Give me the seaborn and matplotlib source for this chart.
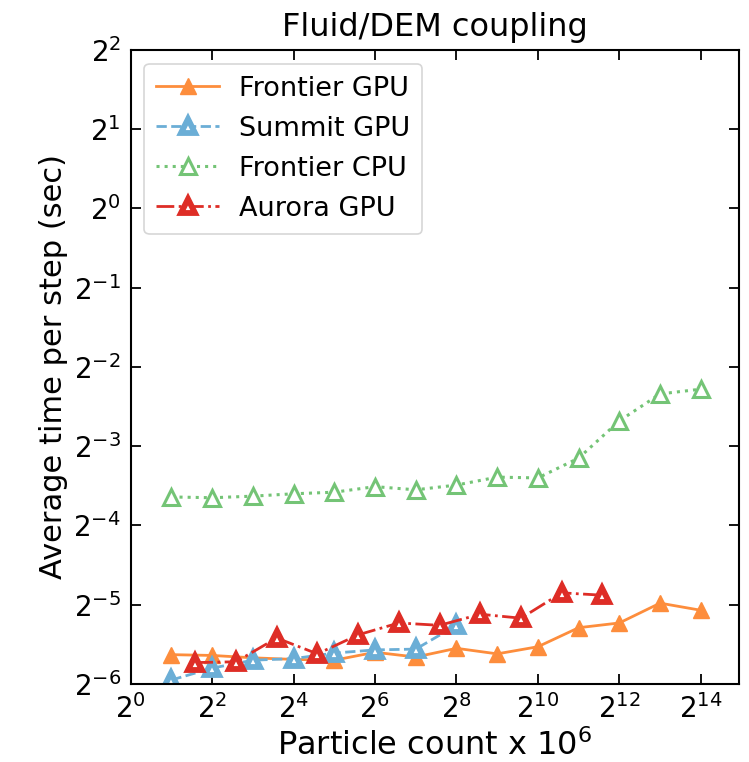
import numpy as np
import pandas as pd
import matplotlib
matplotlib.use("Agg")
import matplotlib.pyplot as plt
import seaborn as sns

# Particle count (x 10^6)
x_pow2 = [2, 4, 8, 16, 32, 64, 128, 256, 512, 1024, 2048, 4096, 8192, 16384]
x_aurora = [3, 6, 12, 24, 48, 96, 192, 384, 768, 1536, 3072]

# Average time per step (sec), read as log2 values
frontier_gpu_log2 = [-5.63, -5.64, -5.67, -5.69, -5.70, -5.60, -5.66, -5.55,
                     -5.62, -5.53, -5.29, -5.23, -4.98, -5.07]
summit_gpu_log2 = [-5.95, -5.80, -5.70, -5.68, -5.61, -5.57, -5.56, -5.26]
frontier_cpu_log2 = [-3.64, -3.65, -3.63, -3.60, -3.58, -3.51, -3.55, -3.49,
                     -3.39, -3.40, -3.15, -2.68, -2.34, -2.28]
aurora_gpu_log2 = [-5.73, -5.72, -5.42, -5.62, -5.38, -5.23, -5.26, -5.12,
                   -5.17, -4.85, -4.88]

series_names = ["Frontier GPU", "Summit GPU", "Frontier CPU", "Aurora GPU"]
x_ticks_exp = [0, 2, 4, 6, 8, 10, 12, 14]
y_ticks_exp = [-6, -5, -4, -3, -2, -1, 0, 1, 2]

frontier_gpu = [2.0 ** v for v in frontier_gpu_log2]
summit_gpu = [2.0 ** v for v in summit_gpu_log2]
frontier_cpu = [2.0 ** v for v in frontier_cpu_log2]
aurora_gpu = [2.0 ** v for v in aurora_gpu_log2]

fig = plt.figure(figsize=(7.49, 7.62), dpi=100)
ax = fig.add_axes([0.1745, 0.1024, 0.8128, 0.832])

ms = 12
sns.lineplot(x=x_pow2, y=frontier_gpu, ax=ax, color="#fd8d3c", linestyle="-",
             marker="^", markersize=ms, markerfacecolor="#fd8d3c",
             markeredgecolor="#fd8d3c", markeredgewidth=1.0, linewidth=2.0,
             label=series_names[0])
sns.lineplot(x=x_pow2[:8], y=summit_gpu, ax=ax, color="#6baed6", linestyle="--",
             marker="^", markersize=10, markerfacecolor="white",
             markeredgecolor="#6baed6", markeredgewidth=4.2, linewidth=2.0,
             label=series_names[1])
sns.lineplot(x=x_pow2, y=frontier_cpu, ax=ax, color="#74c476", linestyle=":",
             marker="^", markersize=ms, markerfacecolor="white",
             markeredgecolor="#74c476", markeredgewidth=2.2, linewidth=2.2,
             label=series_names[2])
sns.lineplot(x=x_aurora, y=aurora_gpu, ax=ax, color="#de2d26", linestyle="-.",
             marker="^", markersize=10, markerfacecolor="white",
             markeredgecolor="#de2d26", markeredgewidth=4.2, linewidth=2.0,
             label=series_names[3])

ax.set_xscale("log", base=2)
ax.set_yscale("log", base=2)
ax.set_xlim(2.0 ** 0, 2.0 ** 14.95)
ax.set_ylim(2.0 ** -6, 2.0 ** 2)
ax.set_xticks([2.0 ** e for e in x_ticks_exp])
ax.set_xticklabels([r"$2^{%d}$" % e for e in x_ticks_exp])
ax.set_yticks([2.0 ** e for e in y_ticks_exp])
ax.set_yticklabels([r"$2^{%d}$" % e for e in y_ticks_exp])
ax.minorticks_off()
ax.tick_params(axis="both", which="major", direction="in", length=7, width=1.3,
               labelsize=20, top=True, right=True, pad=7)
for sp in ax.spines.values():
    sp.set_linewidth(1.5)
    sp.set_color("black")

ax.set_xlabel(r"Particle count x $10^6$", fontsize=23)
ax.set_ylabel("Average time per step (sec)", fontsize=22)
ax.set_title("Fluid/DEM coupling", fontsize=23, pad=10)

leg = ax.legend(loc="upper left", fontsize=19.5, frameon=True, handlelength=2.3,
                handletextpad=0.75, borderpad=0.45, labelspacing=0.52,
                borderaxespad=0.5)
leg.get_frame().set_edgecolor("#cccccc")
leg.get_frame().set_linewidth(1.2)

fig.savefig("out.png", dpi=100)
